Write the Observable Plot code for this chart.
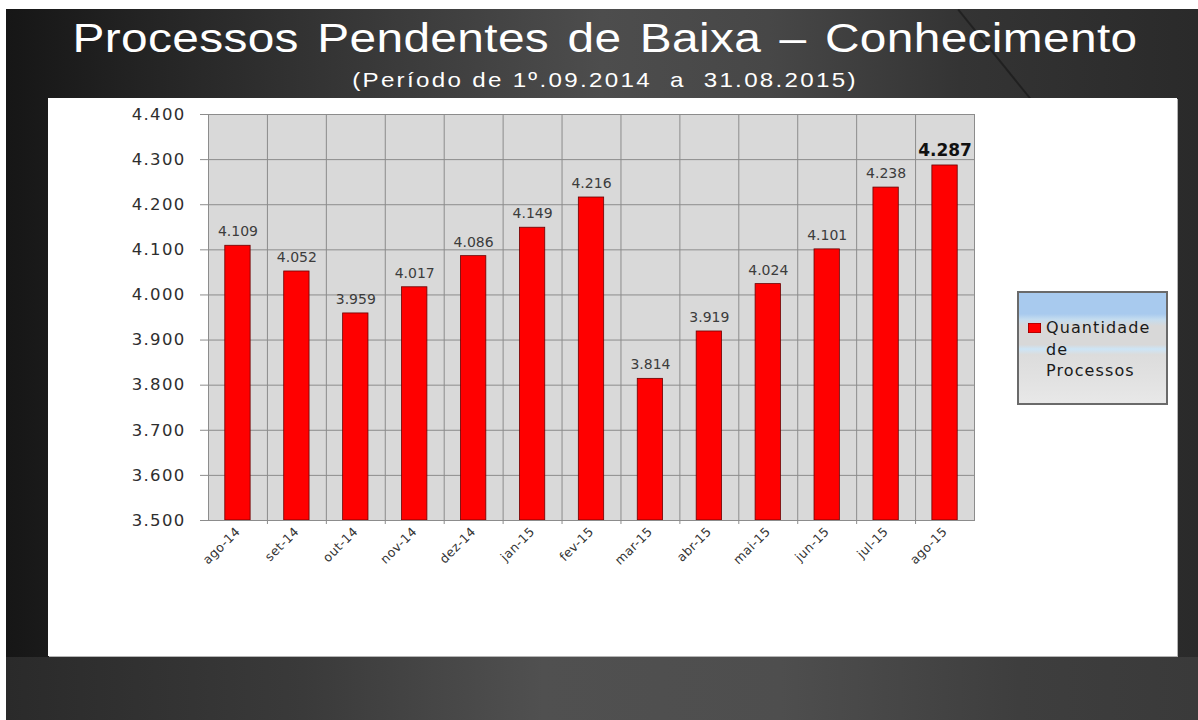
<!DOCTYPE html>
<html>
<head>
<meta charset="utf-8">
<script src="https://cdn.jsdelivr.net/npm/d3@7"></script>
<script src="https://cdn.jsdelivr.net/npm/@observablehq/plot@0.6"></script>
<style>
  html, body { margin: 0; padding: 0; background: #ffffff; width: 1198px; height: 720px; overflow: hidden; }
  #slide { position: absolute; left: 6px; top: 9px; width: 1192px; height: 711px;
    background: linear-gradient(90deg, #161616 0%, #242424 12%, #3a3a3a 32%, #4d4d4d 50%, #474747 64%, #343434 80%, #2a2a2a 100%); }
  #streak { position: absolute; left: 959px; top: 9px; width: 130px; height: 2px; background: rgba(0,0,0,0.35);
    transform-origin: 0 0; transform: rotate(51deg); }
  #bottomband { position: absolute; left: 6px; top: 657px; width: 1192px; height: 63px;
    background: linear-gradient(90deg, #2a2a2a 0%, #3a3a3a 25%, #505050 45%, #4e4e4e 65%, #3e3e3e 85%, #3a3a3a 100%); }
  #title { position: absolute; left: 12px; top: 15px; width: 1186px; text-align: center; color: #ffffff;
    font-family: "Liberation Sans", Arial, sans-serif; font-size: 40px; line-height: 46px;
    letter-spacing: 0.3px; word-spacing: 4px; white-space: pre; transform: scaleX(1.195); transform-origin: 50% 50%; }
  #subtitle { position: absolute; left: 12px; top: 67px; width: 1186px; text-align: center; color: #ffffff;
    font-family: "Liberation Sans", Arial, sans-serif; font-size: 21px; line-height: 25px;
    letter-spacing: 2px; white-space: pre; transform: scaleX(1.15); transform-origin: 50% 50%; }
  #chart { position: absolute; left: 48px; top: 98px; width: 1129px; height: 558px; background: #fff;
    box-shadow: 1px 1px 0 #b5b5b5; }
  #legend { position: absolute; left: 1017px; top: 291px; width: 147px; height: 110px;
    border: 2px solid #6a6a6a;
    background: linear-gradient(180deg, #a8caee 0%, #a8caee 19%, #c4dcef 24%, #d8d8d8 30%, #d8d8d8 47%, #cde5f6 51%, #dcdcdc 56%, #e2e2e2 80%, #e8e8e8 100%);
    font-family: "DejaVu Sans", sans-serif; font-size: 16px; line-height: 21.5px; letter-spacing: 1.1px; color: #1a1a1a; }
  #legend .sw { position: absolute; left: 9px; top: 30px; width: 13px; height: 10px; background: #ff0000; box-shadow: inset 0 0 0 0.6px #700; }
  #legend .lab { position: absolute; left: 27px; top: 24px; width: 125px; white-space: nowrap; }
</style>
</head>
<body>
<div id="slide"></div>
<div id="streak"></div>
<div id="bottomband"></div>
<div id="title"></div>
<div id="subtitle"></div>
<div id="chart"></div>
<div id="legend"><div class="sw"></div><div class="lab"></div></div>
<script>
const titleText = "Processos Pendentes de Baixa – Conhecimento";
const subtitleText = "(Período de 1º.09.2014  a  31.08.2015)";
const seriesName = ["Quantidade", "de", "Processos"];

const months = ["ago-14", "set-14", "out-14", "nov-14", "dez-14", "jan-15", "fev-15",
                "mar-15", "abr-15", "mai-15", "jun-15", "jul-15", "ago-15"];
const values = [4109, 4052, 3959, 4017, 4086, 4149, 4216, 3814, 3919, 4024, 4101, 4238, 4287];
const yTicks = [3500, 3600, 3700, 3800, 3900, 4000, 4100, 4200, 4300, 4400];

document.getElementById("title").textContent = titleText;
document.getElementById("subtitle").textContent = subtitleText;
document.querySelector("#legend .lab").innerHTML = seriesName.join("<br>");

const data = months.map((m, i) => ({month: m, value: values[i]}));
const last = months[months.length - 1];
const W = 1129, H = 558, ML = 160, MR = 203, MT = 16, MB = 136;
const step = (W - ML - MR) / months.length;
const fmt = d3.formatLocale({decimal: ",", thousands: ".", grouping: [3], currency: ["R$", ""]}).format(",d");

const chart = Plot.plot({
  width: W, height: H,
  marginLeft: ML, marginRight: MR, marginTop: MT, marginBottom: MB,
  style: {background: "#ffffff", fontFamily: "'DejaVu Sans', sans-serif", color: "#333"},
  x: {domain: months, padding: 0, round: false, label: null},
  y: {domain: [3500, 4400], label: null},
  marks: [
    Plot.frame({fill: "#d9d9d9", stroke: null}),
    Plot.ruleY(yTicks, {stroke: "#8c8c8c", strokeWidth: 1}),
    Plot.ruleX(months.slice(1), {x: d => d, dx: -step / 2, stroke: "#8c8c8c", insetBottom: -4}),
    Plot.barY(data, {x: "month", y1: 3500, y2: "value", fill: "#ff0000", stroke: "#6a0000", strokeWidth: 0.8,
                     insetLeft: step * 0.285, insetRight: step * 0.285}),
    Plot.text(data.filter(d => d.month !== last), {x: "month", y: "value", text: d => fmt(d.value),
      dy: -14, fontSize: 14, fill: "#3c3c3c", ariaLabel: "value label"}),
    Plot.text(data.filter(d => d.month === last), {x: "month", y: "value", text: d => fmt(d.value),
      dy: -15, fontSize: 17, fontWeight: "bold", fill: "#111", ariaLabel: "value label bold"}),
    Plot.frame({stroke: "#8c8c8c", fill: null}),
    Plot.axisY(yTicks, {tickFormat: fmt, tickSize: 8, tickPadding: 15, stroke: "#8c8c8c", fill: "#2e2e2e", fontSize: 16.5}),
    Plot.axisX({tickRotate: -45, tickSize: 0, tickPadding: 9, fontSize: 12.5, fill: "#333"})
  ]
});
document.getElementById("chart").appendChild(chart);
const svg = d3.select(chart);
svg.selectAll("g[aria-label='y-axis tick label'] text").style("letter-spacing", "1.3px");
svg.selectAll("g[aria-label='x-axis tick label'] text").style("letter-spacing", "0.4px");
svg.selectAll("g[aria-label='value label bold'] text").style("letter-spacing", "0.5px");
</script>
</body>
</html>
